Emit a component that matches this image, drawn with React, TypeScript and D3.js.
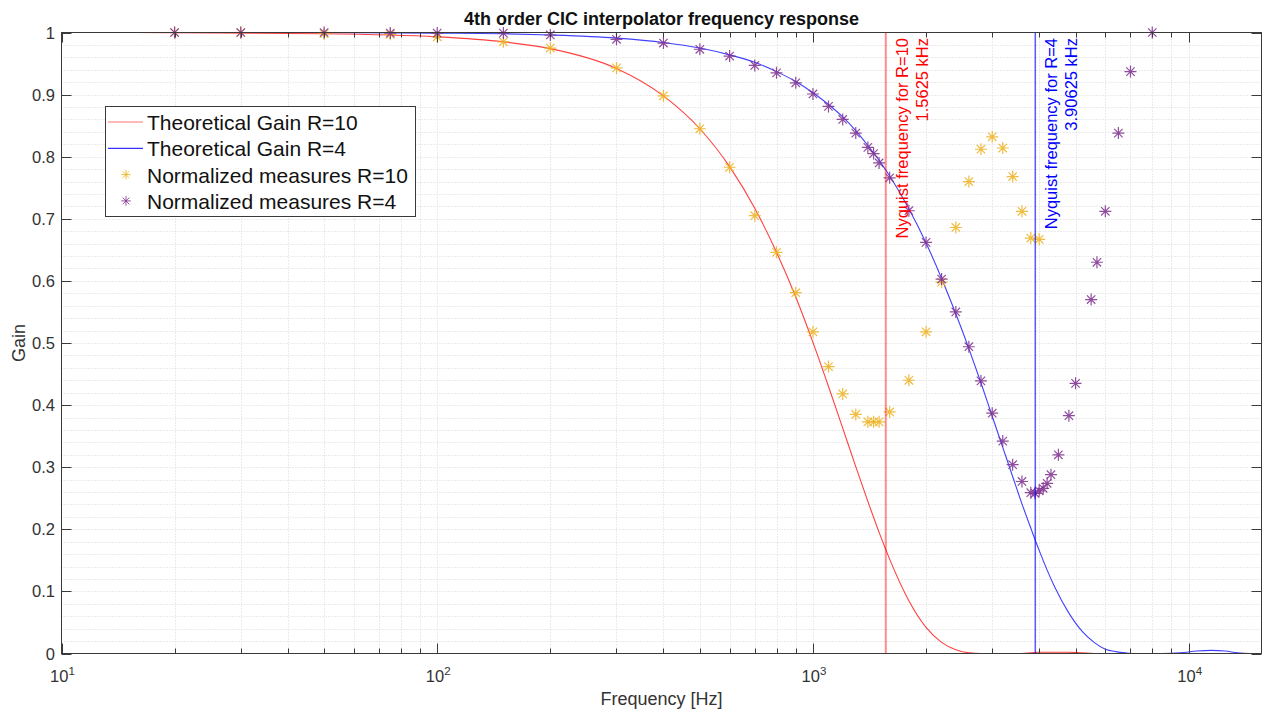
import { useRef, useEffect } from 'react'
import * as d3 from 'd3'

// theoretical gain curves
const THEORY_FREQ = [15.625, 50, 100, 150, 200, 300, 400, 500, 600, 700, 800, 900, 1000, 1100, 1200, 1300, 1400, 1500, 1600, 1800, 2000, 2200, 2400, 2600, 2800, 3000, 3200, 3400, 3600, 3800, 4000, 4400, 4800, 5200, 5600, 6000, 6400, 6800, 7200, 7812.5, 8500, 9500, 10500, 11500, 12500, 13500, 14500, 15625]
const THEORY_R10 = [1.0, 0.998, 0.993, 0.985, 0.974, 0.942, 0.898, 0.845, 0.784, 0.717, 0.646, 0.574, 0.501, 0.43, 0.363, 0.301, 0.245, 0.195, 0.152, 0.085, 0.042, 0.018, 0.006, 0.001, 0.0, 0.0, 0.0, 0.0, 0.0, 0.001, 0.002, 0.002, 0.002, 0.001, 0.0, 0.0, 0.0, 0.0, 0.0, 0.0, 0.0, 0.0, 0.0, 0.0, 0.0, 0.0, 0.0, 0.0]
const THEORY_R4 = [1.0, 1.0, 0.999, 0.998, 0.996, 0.991, 0.984, 0.975, 0.964, 0.952, 0.937, 0.921, 0.903, 0.884, 0.864, 0.842, 0.818, 0.794, 0.769, 0.716, 0.661, 0.604, 0.547, 0.491, 0.436, 0.382, 0.332, 0.285, 0.241, 0.202, 0.166, 0.107, 0.065, 0.036, 0.018, 0.007, 0.003, 0.001, 0.0, 0.0, 0.0, 0.001, 0.004, 0.005, 0.004, 0.001, 0.0, 0.0]

// normalized measurements
const MEAS_R10_FREQ = [20, 30, 50, 75, 100, 150, 200, 300, 400, 500, 600, 700, 800, 900, 1000, 1100, 1200, 1300, 1400, 1450, 1500, 1600, 1800, 2000, 2200, 2400, 2600, 2800, 3000, 3200, 3400, 3600, 3800, 4000]
const MEAS_R10_GAIN = [1.0, 1.0, 0.998, 0.997, 0.993, 0.985, 0.975, 0.943, 0.898, 0.845, 0.783, 0.705, 0.646, 0.581, 0.518, 0.462, 0.418, 0.385, 0.373, 0.373, 0.373, 0.389, 0.44, 0.518, 0.598, 0.686, 0.76, 0.812, 0.832, 0.814, 0.768, 0.712, 0.669, 0.667]
const MEAS_R4_FREQ = [20, 30, 50, 75, 100, 150, 200, 300, 400, 500, 600, 700, 800, 900, 1000, 1100, 1200, 1300, 1400, 1450, 1500, 1600, 1800, 2000, 2200, 2400, 2600, 2800, 3000, 3200, 3400, 3600, 3800, 3900, 4000, 4100, 4200, 4300, 4500, 4800, 5000, 5500, 5700, 6000, 6500, 7000, 8000]
const MEAS_R4_GAIN = [1.0, 1.0, 1.0, 0.999, 0.999, 0.999, 0.996, 0.989, 0.983, 0.973, 0.962, 0.947, 0.935, 0.919, 0.901, 0.881, 0.86, 0.838, 0.815, 0.805, 0.79, 0.766, 0.713, 0.662, 0.603, 0.55, 0.494, 0.439, 0.387, 0.342, 0.304, 0.277, 0.259, 0.258, 0.262, 0.266, 0.274, 0.288, 0.32, 0.383, 0.435, 0.57, 0.63, 0.712, 0.838, 0.937, 1.0]

const NYQUIST_FREQ = [1562.5, 3906.25]
const NYQUIST_TEXT = [
  ['Nyquist frequency for R=10', '1.5625 kHz'],
  ['Nyquist frequency for R=4', '3.90625 kHz'],
]
const Y_TICKS = [0, 0.1, 0.2, 0.3, 0.4, 0.5, 0.6, 0.7, 0.8, 0.9, 1]
const X_DECADES = [10, 100, 1000, 10000]
const LEGEND_LABELS = ['Theoretical Gain R=10', 'Theoretical Gain R=4', 'Normalized measures R=10', 'Normalized measures R=4']

const W = 1262
const H = 711
const FONT = '"Liberation Sans", Arial, Helvetica, sans-serif'
const AXIS = '#3a3a3a'
const RED = '#ff0000'
const BLUE = '#0000ff'
const ORANGE = '#EDB120'
const PURPLE = '#7E2F8E'
const STAR = 'M-6,0H6M0,-6V6M-4.2,-4.2L4.2,4.2M-4.2,4.2L4.2,-4.2'

export default function App() {
  const svgRef = useRef<SVGSVGElement | null>(null)

  useEffect(() => {
    if (!svgRef.current) return
    const svg = d3.select(svgRef.current)
    svg.selectAll('*').remove()
    svg.attr('width', W).attr('height', H).style('font-family', FONT)

    const left = 61.5
    const right = 1261.5
    const top = 32.5
    const bottom = 653.5

    const x = d3.scaleLog().domain([10, 15625]).range([left, right])
    const y = d3.scaleLinear().domain([0, 1]).range([bottom, top])

    svg.append('rect').attr('width', W).attr('height', H).attr('fill', '#fff')

    // grid (all dotted)
    const xGrid: number[] = []
    const xTicks: { v: number; major: boolean }[] = []
    X_DECADES.forEach((d) => {
      for (let k = 1; k <= 9; k++) {
        const v = k * d
        if (v > 15625) break
        xTicks.push({ v, major: k === 1 })
        if (v > 10) xGrid.push(v)
      }
    })
    const grid = svg.append('g').attr('stroke', '#d6d6d6').attr('stroke-width', 1).attr('stroke-dasharray', '1,2')
    xGrid.forEach((v) => {
      const px = Math.round(x(v)) + 0.5
      grid.append('line').attr('x1', px).attr('x2', px).attr('y1', top).attr('y2', bottom)
    })
    d3.range(1, 50).forEach((i) => {
      const py = Math.round(y(i * 0.02)) + 0.5
      grid.append('line').attr('x1', left).attr('x2', right).attr('y1', py).attr('y2', py)
    })

    // theoretical curves
    const line = d3
      .line<[number, number]>()
      .x((d) => x(d[0]))
      .y((d) => y(d[1]))
      .curve(d3.curveMonotoneX)
    const curves: [number[], string][] = [
      [THEORY_R10, RED],
      [THEORY_R4, BLUE],
    ]
    curves.forEach(([vals, color]) => {
      svg
        .append('path')
        .datum(THEORY_FREQ.map((f, i) => [f, vals[i]] as [number, number]))
        .attr('fill', 'none')
        .attr('stroke', color)
        .attr('stroke-opacity', 0.75)
        .attr('stroke-width', 1.1)
        .attr('d', line)
    })

    // measured points
    const sets: [number[], number[], string][] = [
      [MEAS_R10_FREQ, MEAS_R10_GAIN, ORANGE],
      [MEAS_R4_FREQ, MEAS_R4_GAIN, PURPLE],
    ]
    sets.forEach(([fs, gs, color]) => {
      svg
        .append('g')
        .selectAll('path')
        .data(fs.map((f, i) => [f, gs[i]]))
        .join('path')
        .attr('transform', (d) => `translate(${x(d[0])},${y(d[1])})`)
        .attr('d', STAR)
        .attr('fill', 'none')
        .attr('stroke', color)
        .attr('stroke-opacity', 0.85)
        .attr('stroke-width', 1.2)
    })

    // nyquist markers
    NYQUIST_FREQ.forEach((f, i) => {
      const color = i === 0 ? RED : BLUE
      const px = x(f)
      svg
        .append('line')
        .attr('x1', px)
        .attr('x2', px)
        .attr('y1', top)
        .attr('y2', bottom)
        .attr('stroke', color)
        .attr('stroke-opacity', i === 0 ? 0.45 : 0.65)
        .attr('stroke-width', i === 0 ? 2 : 1.5)
      NYQUIST_TEXT[i].forEach((t, j) => {
        svg
          .append('text')
          .attr('transform', `translate(${px + 22 + j * 20},38) rotate(-90)`)
          .attr('text-anchor', 'end')
          .attr('font-size', 16.5)
          .attr('fill', color)
          .text(t)
      })
    })

    // box + ticks
    svg
      .append('rect')
      .attr('x', left)
      .attr('y', top)
      .attr('width', right - left)
      .attr('height', bottom - top)
      .attr('fill', 'none')
      .attr('stroke', AXIS)
      .attr('stroke-width', 1)
    const ticks = svg.append('g').attr('stroke', AXIS).attr('stroke-width', 1)
    xTicks.forEach(({ v, major }) => {
      const px = Math.round(x(v)) + 0.5
      const len = major ? 10 : 5
      ticks.append('line').attr('x1', px).attr('x2', px).attr('y1', bottom).attr('y2', bottom - len)
      ticks.append('line').attr('x1', px).attr('x2', px).attr('y1', top).attr('y2', top + len)
    })
    Y_TICKS.forEach((v) => {
      const py = Math.round(y(v)) + 0.5
      ticks.append('line').attr('x1', left).attr('x2', left + 10).attr('y1', py).attr('y2', py)
      ticks.append('line').attr('x1', right).attr('x2', right - 10).attr('y1', py).attr('y2', py)
      svg
        .append('text')
        .attr('x', 55)
        .attr('y', py)
        .attr('dy', '0.36em')
        .attr('text-anchor', 'end')
        .attr('font-size', 16.5)
        .attr('fill', '#333')
        .text(d3.format('~g')(v))
    })
    X_DECADES.forEach((d) => {
      const t = svg
        .append('text')
        .attr('x', x(d) + 1)
        .attr('y', 681.5)
        .attr('text-anchor', 'middle')
        .attr('font-size', 16.5)
        .attr('fill', '#333')
      t.append('tspan').text('10')
      t.append('tspan').attr('font-size', 11.5).attr('dy', -7).text(String(Math.round(Math.log10(d))))
    })

    // labels
    svg
      .append('text')
      .attr('x', (left + right) / 2)
      .attr('y', 25)
      .attr('text-anchor', 'middle')
      .attr('font-size', 18)
      .attr('font-weight', 'bold')
      .attr('fill', '#111')
      .text('4th order CIC interpolator frequency response')
    svg
      .append('text')
      .attr('x', (left + right) / 2)
      .attr('y', 705)
      .attr('text-anchor', 'middle')
      .attr('font-size', 18)
      .attr('fill', '#333')
      .text('Frequency [Hz]')
    svg
      .append('text')
      .attr('transform', `translate(25,${(top + bottom) / 2}) rotate(-90)`)
      .attr('text-anchor', 'middle')
      .attr('font-size', 18)
      .attr('fill', '#333')
      .text('Gain')

    // legend
    const lg = svg.append('g')
    lg.append('rect')
      .attr('x', 105.5)
      .attr('y', 106.5)
      .attr('width', 310)
      .attr('height', 110)
      .attr('fill', '#fff')
      .attr('stroke', AXIS)
      .attr('stroke-width', 1)
    LEGEND_LABELS.forEach((label, i) => {
      const base = 130 + i * 26.3
      const cy = base - 8
      if (i < 2) {
        lg.append('line')
          .attr('x1', 108)
          .attr('x2', 143)
          .attr('y1', cy)
          .attr('y2', cy)
          .attr('stroke', i === 0 ? RED : BLUE)
          .attr('stroke-opacity', i === 0 ? 0.55 : 0.8)
          .attr('stroke-width', 1.2)
      } else {
        lg.append('path')
          .attr('transform', `translate(126,${cy}) scale(0.8)`)
          .attr('d', STAR)
          .attr('fill', 'none')
          .attr('stroke', i === 2 ? ORANGE : PURPLE)
          .attr('stroke-opacity', 0.85)
          .attr('stroke-width', 1.2)
      }
      lg.append('text').attr('x', 147).attr('y', base).attr('font-size', 21).attr('fill', '#111').text(label)
    })
  }, [])

  return (
    <div style={{ width: W, height: H, overflow: 'hidden' }}>
      <style>{'body{margin:0;overflow:hidden}'}</style>
      <svg ref={svgRef} style={{ display: 'block' }} />
    </div>
  )
}
